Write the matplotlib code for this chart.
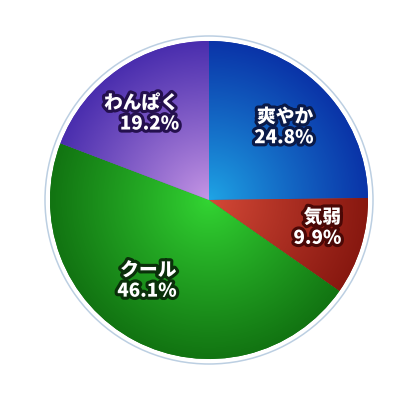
import numpy as np
import matplotlib
matplotlib.use("Agg")
import matplotlib.pyplot as plt
import matplotlib.patheffects as pe
from matplotlib.colors import LinearSegmentedColormap
from matplotlib.patches import Circle

plt.rcParams['font.family'] = ['Noto Sans CJK JP', 'DejaVu Sans']

labels = ['爽やか', '気弱', 'クール', 'わんぱく']
values = [24.8, 9.9, 46.1, 19.2]

inner_colors = ['#1fa6e6', '#d64a38', '#33d633', '#c898e6']
outer_colors = ['#0a34a8', '#881810', '#127412', '#4a2eae']
stroke_colors = ['#0a1a48', '#4a0806', '#0a300a', '#24104e']
nudges = [(1, -2), (8, 3), (-13, 12), (-8, 0)]

W, H = 419, 400
cx, cy, R = 209, 200, 159

fig = plt.figure(figsize=(W / 100, H / 100), dpi=100)
ax = fig.add_axes([0, 0, 1, 1])
ax.set_xlim(0, W)
ax.set_ylim(0, H)
ax.set_aspect('equal')
ax.axis('off')

wedges, _ = ax.pie(values, startangle=90, counterclock=False,
                   center=(cx, cy), radius=R, colors=outer_colors,
                   wedgeprops=dict(linewidth=0))

yy, xx = np.mgrid[cy - R:cy + R:400j, cx - R:cx + R:400j]
dist = np.clip(np.hypot(xx - cx, yy - cy) / R, 0, 1)

for w, c0, c1 in zip(wedges, inner_colors, outer_colors):
    cmap = LinearSegmentedColormap.from_list('g', [c0, c1])
    im = ax.imshow(dist ** 0.9, cmap=cmap, vmin=0, vmax=1, origin='lower',
                   extent=(cx - R, cx + R, cy - R, cy + R), zorder=2,
                   interpolation='bilinear')
    im.set_clip_path(w)

ax.add_patch(Circle((cx, cy), R + 5, fill=False, ec='#bccfe2', lw=1.1, zorder=3))
ax.set_xlim(0, W)
ax.set_ylim(0, H)

for w, lab, v, sc, (dx, dy) in zip(wedges, labels, values, stroke_colors, nudges):
    th = np.deg2rad((w.theta1 + w.theta2) / 2)
    x = cx + 0.66 * R * np.cos(th) + dx
    y = cy + 0.66 * R * np.sin(th) + dy
    ax.text(x, y, f'{lab}\n{v:.1f}%', ha='center', va='center',
            multialignment='right', color='white', fontsize=13.5,
            fontweight='black', linespacing=1.12, zorder=5,
            path_effects=[pe.withStroke(linewidth=4.5, foreground=sc)])

fig.savefig('out.png', dpi=100, facecolor='white')
